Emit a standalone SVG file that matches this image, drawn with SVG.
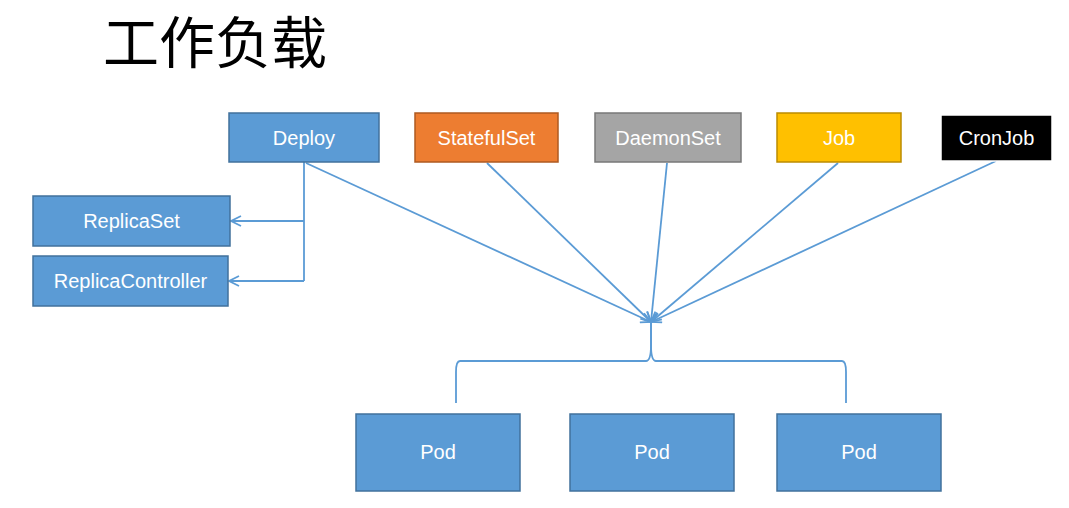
<svg xmlns="http://www.w3.org/2000/svg" width="1069" height="508" viewBox="0 0 1069 508">
<style>
.box{stroke-width:1.5}
.blue{fill:#5B9BD5;stroke:#41719C}
.orange{fill:#ED7D31;stroke:#AE5A21}
.gray{fill:#A5A5A5;stroke:#787878}
.gold{fill:#FFC000;stroke:#BC8C00}
.black{fill:#000000;stroke:#ffffff}
.lbl{font-family:"Liberation Sans",Arial,sans-serif;font-size:20px;fill:#ffffff;text-anchor:middle;dominant-baseline:central}
.conn{fill:none;stroke:#5B9BD5;stroke-width:1.8}
.title{font-family:"Noto Sans CJK SC","Noto Sans",sans-serif;font-size:56px;fill:#000000}
</style>
<defs>
<marker id="arr" viewBox="0 0 12 12" refX="11" refY="6" markerWidth="12" markerHeight="12" markerUnits="userSpaceOnUse" orient="auto">
<path d="M1,1 L11,6 L1,11" fill="none" stroke="#5B9BD5" stroke-width="1.8"/>
</marker>
</defs>
<text class="title" x="103" y="63">工作负载</text>
<g id="connectors">
<path class="conn" d="M304,162 V281" />
<path class="conn" d="M304,221 H231" marker-end="url(#arr)"/>
<path class="conn" d="M304,281 H229" marker-end="url(#arr)"/>
<path class="conn" d="M306,163 L651,322" marker-end="url(#arr)"/>
<path class="conn" d="M487,163 L651,322" marker-end="url(#arr)"/>
<path class="conn" d="M667,163 L651,322" marker-end="url(#arr)"/>
<path class="conn" d="M838,163 L651,322" marker-end="url(#arr)"/>
<path class="conn" d="M996,161 L651,322" marker-end="url(#arr)"/>
<path class="conn" d="M651,322 V345 Q651,361 646,361 H460 Q456,361 456,372 V403"/>
<path class="conn" d="M651,322 V345 Q651,361 656,361 H842 Q846,361 846,372 V403"/>
</g>
<g id="deploy"><rect class="box blue" x="229" y="113" width="150" height="49"/><text class="lbl" x="304" y="138">Deploy</text></g>
<g id="statefulset"><rect class="box orange" x="415" y="113" width="143" height="49"/><text class="lbl" x="486.5" y="138">StatefulSet</text></g>
<g id="daemonset"><rect class="box gray" x="595" y="113" width="146" height="49"/><text class="lbl" x="668" y="138">DaemonSet</text></g>
<g id="job"><rect class="box gold" x="777" y="113" width="124" height="49"/><text class="lbl" x="839" y="138">Job</text></g>
<g id="cronjob"><rect class="box black" x="941" y="115" width="111" height="46"/><text class="lbl" x="996.5" y="138">CronJob</text></g>
<g id="replicaset"><rect class="box blue" x="33" y="196" width="197" height="50"/><text class="lbl" x="131.5" y="221">ReplicaSet</text></g>
<g id="replicacontroller"><rect class="box blue" x="33" y="256" width="195" height="50"/><text class="lbl" x="130.5" y="281">ReplicaController</text></g>
<g id="pod1"><rect class="box blue" x="356" y="414" width="164" height="77"/><text class="lbl" x="438" y="452">Pod</text></g>
<g id="pod2"><rect class="box blue" x="570" y="414" width="164" height="77"/><text class="lbl" x="652" y="452">Pod</text></g>
<g id="pod3"><rect class="box blue" x="777" y="414" width="164" height="77"/><text class="lbl" x="859" y="452">Pod</text></g>
</svg>
